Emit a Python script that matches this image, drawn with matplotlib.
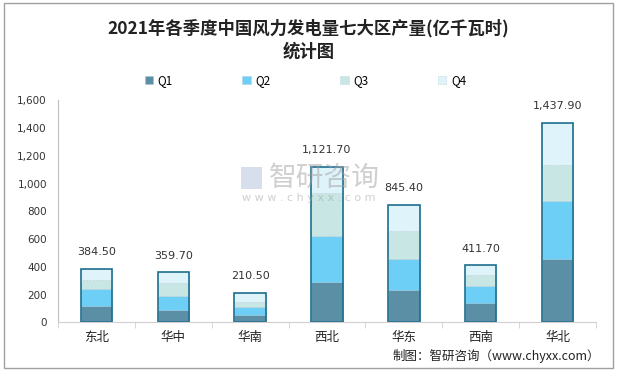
import numpy as np
import matplotlib
matplotlib.use("Agg")
import matplotlib.pyplot as plt
from matplotlib.patches import Rectangle

plt.rcParams["font.family"] = ["Noto Sans CJK SC", "DejaVu Sans"]

# ---- data (亿千瓦时) ----
regions = ["东北", "华中", "华南", "西北", "华东", "西南", "华北"]
q1 = [117, 89, 50, 290, 233, 139, 456]
q2 = [123, 100, 60, 331, 223, 122, 417]
q3 = [65, 94, 36, 308, 201, 80, 260]
q4 = [79.5, 76.7, 64.5, 192.7, 188.4, 70.7, 304.9]
totals = [384.5, 359.7, 210.5, 1121.7, 845.4, 411.7, 1437.9]
series_names = ["Q1", "Q2", "Q3", "Q4"]
colors = ["#5b8fa6", "#6dcff6", "#c8e7e4", "#dff3fa"]

fig = plt.figure(figsize=(6.17, 3.71), dpi=100)
ax = fig.add_axes([0.094, 0.131, 0.872, 0.599])

x = np.arange(len(regions))
width = 0.41
bottom = np.zeros(len(regions))
handles = []
for vals, name, c in zip([q1, q2, q3, q4], series_names, colors):
    b = ax.bar(x, vals, width, bottom=bottom, color=c, label=name,
               edgecolor="#9ab8c6", linewidth=0.4, linestyle=":")
    handles.append(b)
    bottom += np.array(vals)

# outline of the total
ax.bar(x, totals, width, fill=False, edgecolor="#1d6e8e", linewidth=1.2)

for xi, t in zip(x, totals):
    ax.annotate(f"{t:,.2f}", (xi, t), xytext=(0, 12), textcoords="offset points",
                ha="center", va="center", fontsize=8, color="#333333",
                family="DejaVu Sans")

ax.set_xlim(-0.5, len(regions) - 0.5)
ax.set_ylim(0, 1600)
ax.set_yticks(np.arange(0, 1601, 200))
ax.set_yticklabels([f"{v:,}" for v in range(0, 1601, 200)], fontsize=7.5,
                   color="#333333", family="DejaVu Sans")
ax.set_xticks(x)
ax.set_xticklabels(regions, fontsize=9, color="#222222")
ax.tick_params(axis="x", length=0, pad=6)
ax.tick_params(axis="y", length=0, pad=8)
ax.set_xticks(np.arange(-0.5, len(regions), 1), minor=True)
ax.tick_params(axis="x", which="minor", length=4, color="#d0d0d0")
for s in ["top", "right"]:
    ax.spines[s].set_visible(False)
ax.spines["left"].set_color("#bfbfbf")
ax.spines["bottom"].set_color("#d0d0d0")

# ---- title / legend ----
fig.text(0.5, 0.925, "2021年各季度中国风力发电量七大区产量(亿千瓦时)", ha="center",
         va="center", fontsize=12.5, fontweight="bold", color="#222222")
fig.text(0.5, 0.86, "统计图", ha="center", va="center", fontsize=12.5,
         fontweight="bold", color="#222222")
fig.legend(handles, series_names, loc="center", bbox_to_anchor=(0.495, 0.782),
           ncol=4, frameon=False, fontsize=8.5, handlelength=0.7, handleheight=0.7,
           columnspacing=5.9, handletextpad=0.4)

# ---- watermark ----
fig.text(0.525, 0.52, "智研咨询", ha="center", va="center", fontsize=20,
         color="#a0a0a0", alpha=0.5)
fig.text(0.5, 0.466, "w w w . c h y x x . c o m", ha="center", va="center",
         fontsize=8, color="#a0a0a0", alpha=0.5, family="DejaVu Sans")
fig.patches.append(Rectangle((0.39, 0.49), 0.035, 0.06, transform=fig.transFigure,
                             facecolor="#a9b8d6", alpha=0.45, edgecolor="none"))

# ---- source ----
fig.text(0.972, 0.04, "制图：智研咨询（www.chyxx.com）", ha="right", va="center",
         fontsize=9, color="#222222")

fig.patches.append(Rectangle((0.006, 0.008), 0.988, 0.984, transform=fig.transFigure,
                             fill=False, edgecolor="#a0a0a0", linewidth=1))

fig.savefig("out.png", dpi=100, facecolor="white")
